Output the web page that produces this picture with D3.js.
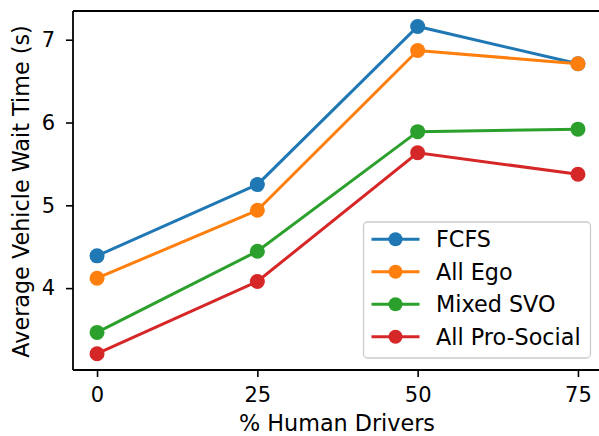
<!DOCTYPE html>
<html><head><meta charset="utf-8">
<script src="https://cdn.jsdelivr.net/npm/d3@7"></script>
<style>body{margin:0;background:#fff}svg{display:block}text{font-family:"DejaVu Sans",sans-serif;fill:#000}</style>
</head><body><svg id="c" width="599" height="436"></svg>
<script>
const xValues = [0, 25, 50, 75];
const xTicks = [0, 25, 50, 75];
const yTicks = [4, 5, 6, 7];
const seriesNames = ["FCFS", "All Ego", "Mixed SVO", "All Pro-Social"];
const seriesColors = ["#1f77b4", "#ff7f0e", "#2ca02c", "#d62728"];
const fcfs = [4.39, 5.25, 7.16, 6.71];
const allEgo = [4.12, 4.94, 6.87, 6.71];
const mixedSvo = [3.465, 4.445, 5.89, 5.92];
const allProSocial = [3.208, 4.08, 5.635, 5.375];
const series = [fcfs, allEgo, mixedSvo, allProSocial];

const svg = d3.select("#c");
const pL = 73, pR = 602, pT = 11, pB = 370;
const x = d3.scaleLinear().domain([-3.75, 78.75]).range([pL, pR]);
const y = d3.scaleLinear().domain([3.011, 7.347]).range([pB, pT]);

// lines
series.forEach((vals, i) => {
  const pts = xValues.map((xv, j) => [xv, vals[j]]);
  svg.append("path").datum(pts)
    .attr("d", d3.line().x(d => x(d[0])).y(d => y(d[1])))
    .attr("fill", "none").attr("stroke", seriesColors[i]).attr("stroke-width", 3);
  svg.selectAll(null).data(pts).enter().append("circle")
    .attr("cx", d => x(d[0])).attr("cy", d => y(d[1])).attr("r", 7.5)
    .attr("fill", seriesColors[i]);
});

// axes
const xAxis = svg.append("g").attr("transform", `translate(0,${pB})`)
  .call(d3.axisBottom(x).tickValues(xTicks).tickFormat(d3.format("d")).tickSize(7).tickPadding(10));
const yAxis = svg.append("g").attr("transform", `translate(${pL},0)`)
  .call(d3.axisLeft(y).tickValues(yTicks).tickFormat(d3.format("d")).tickSize(7).tickPadding(11));
[xAxis, yAxis].forEach(a => {
  a.select(".domain").remove();
  a.selectAll(".tick line").attr("stroke", "#000").attr("stroke-width", 1.6);
  a.selectAll(".tick text").attr("font-size", 21).attr("font-family", "DejaVu Sans").attr("fill", "#000");
});
// spines
svg.append("line").attr("x1", pL).attr("x2", pL).attr("y1", pT).attr("y2", pB).attr("stroke", "#000").attr("stroke-width", 1.8);
svg.append("line").attr("x1", pL).attr("x2", pR).attr("y1", pB).attr("y2", pB).attr("stroke", "#000").attr("stroke-width", 1.8);
svg.append("line").attr("x1", pL).attr("x2", pR).attr("y1", pT).attr("y2", pT).attr("stroke", "#000").attr("stroke-width", 1.8);

// labels
svg.append("text").attr("x", 337).attr("y", 431).attr("text-anchor", "middle")
  .attr("font-size", 22.3).text("% Human Drivers");
svg.append("text").attr("transform", "translate(29.3,191.5) rotate(-90)").attr("text-anchor", "middle")
  .attr("font-size", 22.3).text("Average Vehicle Wait Time (s)");

// legend
const lg = svg.append("g");
lg.append("rect").attr("x", 363.5).attr("y", 222).attr("width", 227).attr("height", 136).attr("rx", 4)
  .attr("fill", "#fff").attr("fill-opacity", 0.8).attr("stroke", "#ccc").attr("stroke-width", 1.3);
seriesNames.forEach((name, i) => {
  const yy = 239.3 + i * 32.5;
  lg.append("line").attr("x1", 371.5).attr("x2", 419.5).attr("y1", yy).attr("y2", yy)
    .attr("stroke", seriesColors[i]).attr("stroke-width", 3);
  lg.append("circle").attr("cx", 395.5).attr("cy", yy).attr("r", 7).attr("fill", seriesColors[i]);
  lg.append("text").attr("x", 436).attr("y", yy).attr("dy", "0.36em").attr("font-size", 22.3).text(name);
});
</script></body></html>
